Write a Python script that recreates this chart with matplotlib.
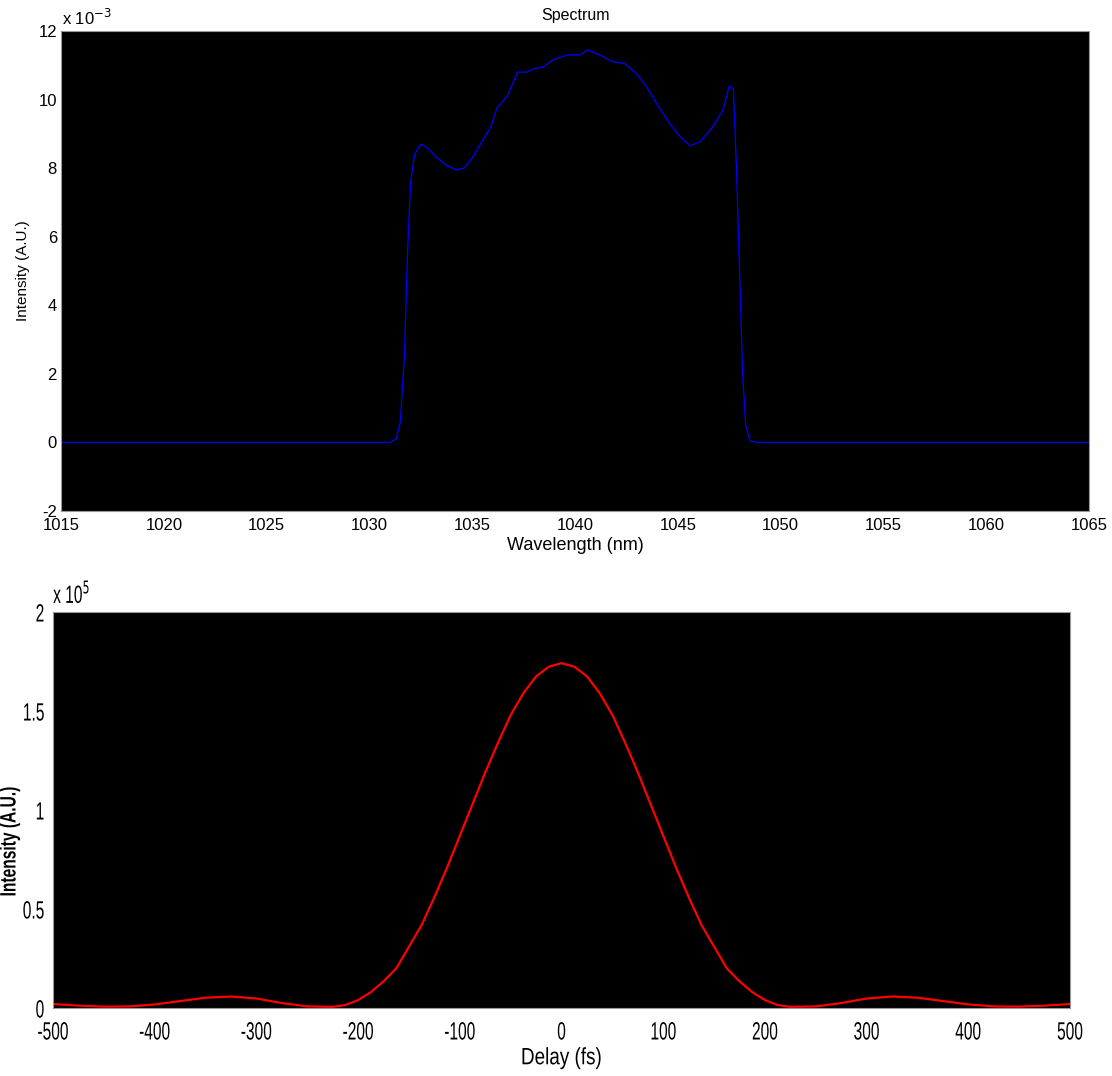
import matplotlib
matplotlib.use("Agg")
import matplotlib.pyplot as plt
from matplotlib import patheffects
from matplotlib.transforms import Affine2D

# spectrum, intensity in units of 1e-3
wavelength_nm = [1015, 1030, 1031.0, 1031.3, 1031.5, 1031.7, 1031.85, 1032.0, 1032.2,
                 1032.5, 1032.8, 1033.2, 1033.7, 1034.2, 1034.6, 1035.0, 1035.4,
                 1035.9, 1036.2, 1036.7, 1037.2, 1037.65, 1038.0, 1038.45, 1038.9,
                 1039.6, 1040.25, 1040.6, 1041.2, 1041.85, 1042.4, 1043.0, 1043.5,
                 1044.0, 1044.6, 1045.1, 1045.6, 1046.1, 1046.7, 1047.2, 1047.5,
                 1047.7, 1047.85, 1048.0, 1048.15, 1048.3, 1048.5, 1048.8, 1065]
spectrum = [0, 0, 0.0, 0.1, 0.6, 2.5, 5.5, 7.6, 8.4,
            8.7, 8.6, 8.35, 8.1, 7.95, 8.0, 8.3, 8.7,
            9.2, 9.75, 10.1, 10.8, 10.8, 10.9, 10.95, 11.15,
            11.3, 11.3, 11.45, 11.3, 11.1, 11.05, 10.75, 10.35,
            9.85, 9.3, 8.92, 8.65, 8.78, 9.2, 9.7, 10.4,
            10.3, 8.0, 5.0, 2.0, 0.5, 0.05, 0, 0]

# autocorrelation, intensity in units of 1e5
delay_fs = [-500, -475, -450, -425, -400, -375, -350, -325, -300, -275, -250,
            -225, -212.5, -200, -187.5, -175, -162.5, -150, -137.5, -125, -112.5,
            -100, -87.5, -75, -62.5, -50, -37.5, -25, -12.5, 0,
            12.5, 25, 37.5, 50, 62.5, 75, 87.5, 100, 112.5, 125, 137.5, 150,
            162.5, 175, 187.5, 200, 212.5, 225,
            250, 275, 300, 325, 350, 375, 400, 425, 450, 475, 500]
autocorr = [0.02, 0.012, 0.007, 0.008, 0.018, 0.035, 0.052, 0.058, 0.048, 0.025, 0.008,
            0.006, 0.015, 0.04, 0.08, 0.135, 0.2, 0.31, 0.42, 0.56, 0.71,
            0.87, 1.03, 1.19, 1.34, 1.48, 1.59, 1.675, 1.724, 1.742,
            1.724, 1.675, 1.59, 1.48, 1.34, 1.19, 1.03, 0.87, 0.71, 0.56, 0.42, 0.31,
            0.2, 0.135, 0.08, 0.04, 0.015, 0.006,
            0.008, 0.025, 0.048, 0.058, 0.052, 0.035, 0.018, 0.008, 0.007, 0.012, 0.02]


class Squeeze(patheffects.AbstractPathEffect):
    """Draw text horizontally condensed (no narrow font installed)."""

    def __init__(self, sx=0.65, anchor='center'):
        super().__init__()
        self.sx = sx
        self.anchor = anchor

    def draw_path(self, renderer, gc, tpath, affine, rgbFace=None):
        ext = tpath.get_extents()
        if self.anchor == 'right':
            cx = ext.x1
        elif self.anchor == 'left':
            cx = ext.x0
        else:
            cx = (ext.x0 + ext.x1) / 2
        t = Affine2D().translate(-cx, 0).scale(self.sx, 1).translate(cx, 0) + affine
        renderer.draw_path(gc, tpath, t, rgbFace)


plt.rcParams['font.family'] = ['Liberation Sans', 'DejaVu Sans']
plt.rcParams['axes.unicode_minus'] = False

fig = plt.figure(figsize=(11.12, 10.76), dpi=100)
fig.patch.set_facecolor('white')

# top panel: spectrum
ax1 = fig.add_axes([0.0549, 0.5251, 0.9245, 0.4461])
ax1.set_facecolor('black')
ax1.plot(wavelength_nm, spectrum, color='#0000ff', lw=0.9)
ax1.set_xlim(1015, 1065)
ax1.set_ylim(-2, 12)
ax1.set_xticks(range(1015, 1066, 5))
ax1.set_yticks(range(-2, 13, 2))
ax1.tick_params(length=0, labelsize=12)
ax1.tick_params(axis='x', pad=5)
ax1.tick_params(axis='y', pad=3)
ax1.set_title('Spectrum', fontsize=11.5, pad=8)
ax1.set_xlabel('Wavelength (nm)', fontsize=13, labelpad=3)
ax1.set_ylabel('Intensity (A.U.)', fontsize=11, labelpad=6)
for s in ax1.spines.values():
    s.set_color('#999999')
ax1.text(0.001, 1.006, r'x 10$^{-3}$', transform=ax1.transAxes, fontsize=12,
         ha='left', va='bottom')

# bottom panel: autocorrelation
ax2 = fig.add_axes([0.0477, 0.0632, 0.9146, 0.368])
ax2.set_facecolor('black')
ax2.plot(delay_fs, autocorr, color='#ff0000', lw=1.6)
ax2.set_xlim(-500, 500)
ax2.set_ylim(0, 2)
ax2.set_xticks(range(-500, 501, 100))
ax2.set_yticks([0, 0.5, 1, 1.5, 2])
ax2.set_yticklabels(['0', '0.5', '1', '1.5', '2'])
ax2.tick_params(length=0, labelsize=18)
ax2.tick_params(axis='x', pad=9)
ax2.tick_params(axis='y', pad=6)
for lab in ax2.get_xticklabels():
    lab.set_path_effects([Squeeze(0.62, 'center')])
for lab in ax2.get_yticklabels():
    lab.set_path_effects([Squeeze(0.62, 'right')])
ax2.set_xlabel('Delay (fs)', fontsize=17, labelpad=2,
               path_effects=[Squeeze(0.8, 'center')])
ax2.set_ylabel('Intensity (A.U.)', fontsize=16, fontweight='bold',
               path_effects=[Squeeze(0.7, 'center')])
ax2.yaxis.set_label_coords(-0.032, 0.42)
for s in ax2.spines.values():
    s.set_color('#999999')
ax2.text(0.0, 1.01, r'x 10$^{5}$', transform=ax2.transAxes, fontsize=18,
         ha='left', va='bottom', path_effects=[Squeeze(0.62, 'left')])

fig.savefig('out.png', dpi=100, facecolor='white')
